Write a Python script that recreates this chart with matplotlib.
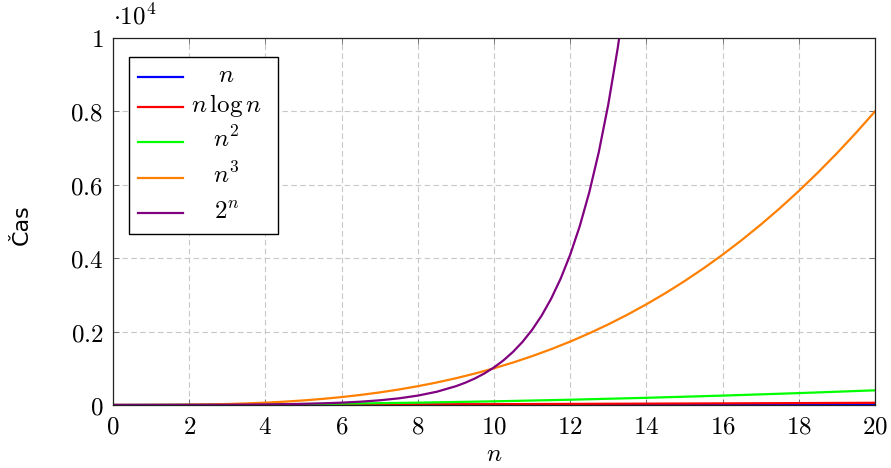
import matplotlib
matplotlib.use("Agg")
import matplotlib.pyplot as plt
from matplotlib.lines import Line2D
from matplotlib.patches import Rectangle
from matplotlib.ticker import FixedLocator, FuncFormatter
import matplotlib.transforms as mtransforms

plt.rcParams['mathtext.fontset'] = 'cm'
plt.rcParams['font.family'] = ['DejaVu Sans']

# ---- data ----
x_lin = [0, 20]
y_lin = [0, 20]

x_nlogn = [0, 1, 2, 4, 6, 8, 10, 12, 14, 16, 18, 20]
y_nlogn = [0, 0, 1.39, 5.55, 10.75, 16.64, 23.03, 29.82, 36.95, 44.36, 52.03, 59.91]

x_sq = [0, 2, 4, 6, 8, 10, 12, 14, 16, 18, 20]
y_sq = [0, 4, 16, 36, 64, 100, 144, 196, 256, 324, 400]

x_cube = [0, 0.5, 1, 1.5, 2, 2.5, 3, 3.5, 4, 4.5, 5, 5.5, 6, 6.5, 7, 7.5, 8, 8.5, 9, 9.5,
          10, 10.5, 11, 11.5, 12, 12.5, 13, 13.5, 14, 14.5, 15, 15.5, 16, 16.5, 17, 17.5,
          18, 18.5, 19, 19.5, 20]
y_cube = [0, 0.125, 1, 3.375, 8, 15.625, 27, 42.875, 64, 91.125, 125, 166.375, 216, 274.625,
          343, 421.875, 512, 614.125, 729, 857.375, 1000, 1157.625, 1331, 1520.875, 1728,
          1953.125, 2197, 2460.375, 2744, 3048.625, 3375, 3723.875, 4096, 4492.125, 4913,
          5359.375, 5832, 6331.625, 6859, 7414.875, 8000]

x_exp = [0, 0.5, 1, 1.5, 2, 2.5, 3, 3.5, 4, 4.5, 5, 5.5, 6, 6.5, 7, 7.5, 8, 8.5, 9, 9.25,
         9.5, 9.75, 10, 10.25, 10.5, 10.75, 11, 11.25, 11.5, 11.75, 12, 12.25, 12.5, 12.75,
         13, 13.25, 13.5]
y_exp = [1, 1.414, 2, 2.83, 4, 5.66, 8, 11.31, 16, 22.6, 32, 45.25, 64, 90.5, 128, 181.0,
         256, 362.0, 512, 608.9, 724.1, 861.1, 1024, 1217.7, 1448.2, 1722.2, 2048, 2435.5,
         2896.3, 3444.3, 4096, 4871.0, 5792.6, 6888.6, 8192, 9741.4, 11585.2]

labels = [r'$n$', r'$n\,\log n$', r'$n^2$', r'$n^3$', r'$2^n$']
colors = ['#0000ff', '#ff0000', '#00ff00', '#ff8000', '#800080']

x_ticks = [0, 2, 4, 6, 8, 10, 12, 14, 16, 18, 20]
y_ticks = [0, 2000, 4000, 6000, 8000, 10000]
y_tick_labels = ['0', '0.2', '0.4', '0.6', '0.8', '1']

# ---- figure ----
W, H = 891, 468
fig = plt.figure(figsize=(W / 100, H / 100), dpi=100)
L, R, T, B = 113, 875, 38, 405
ax = fig.add_axes([L / W, 1 - B / H, (R - L) / W, (B - T) / H])

series = [(x_lin, y_lin), (x_nlogn, y_nlogn), (x_sq, y_sq), (x_cube, y_cube), (x_exp, y_exp)]
for (xs, ys), c in zip(series, colors):
    ax.plot(xs, ys, color=c, lw=1.6, zorder=3)

ax.set_xlim(0, 20)
ax.set_ylim(0, 10000)
ax.xaxis.set_major_locator(FixedLocator(x_ticks))
ax.yaxis.set_major_locator(FixedLocator(y_ticks))
ax.xaxis.set_major_formatter(FuncFormatter(lambda v, p: '$%d$' % round(v)))
ylab = dict(zip(y_ticks, y_tick_labels))
ax.yaxis.set_major_formatter(FuncFormatter(lambda v, p: '$%s$' % ylab.get(int(round(v)), '')))

ax.tick_params(axis='both', which='major', direction='in', length=4, width=0.6,
               color='#666666', labelsize=18, top=True, right=True, pad=7)
ax.grid(True, color='#c8c8c8', linestyle=(0, (5, 3)), lw=0.8, zorder=0)
for s in ax.spines.values():
    s.set_linewidth(0.9)
    s.set_color('#222222')
    s.set_zorder(5)

# legend (drawn manually to get centred entries)
lx0, lx1, ly0, ly1 = 0.021, 0.216, 0.466, 0.948
ax.add_patch(Rectangle((lx0, ly0), lx1 - lx0, ly1 - ly0, transform=ax.transAxes,
                       facecolor='white', edgecolor='black', lw=1.0, zorder=6))
entry_y = [0.894, 0.812, 0.717, 0.619, 0.523]
txt_trans = mtransforms.offset_copy(ax.transAxes, fig=fig, x=0, y=-5.5, units='dots')
for lab, c, yy in zip(labels, colors, entry_y):
    ax.add_line(Line2D([0.033, 0.092], [yy, yy], transform=ax.transAxes, color=c,
                       lw=1.6, zorder=7))
    ax.text(0.149, yy, lab, transform=txt_trans, ha='center', va='baseline',
            fontsize=18, zorder=7)

fig.text(113 / W, 1 - 24 / H, r'$\cdot 10^4$', ha='left', va='baseline', fontsize=18)
fig.text(22 / W, 1 - 225 / H, 'Čas', rotation=90, ha='center', va='center',
         fontsize=16, family=['DejaVu Sans'])
fig.text(494 / W, 1 - 454 / H, r'$n$', ha='center', va='center', fontsize=18)

fig.savefig('out.png', dpi=100)
